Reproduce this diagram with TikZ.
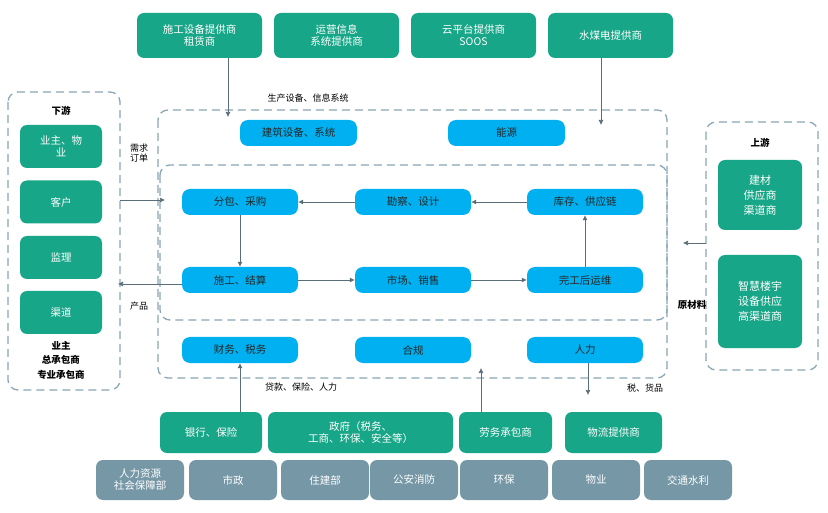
\documentclass[tikz,border=0pt]{standalone}
\usepackage{fontspec}
\setmainfont{Noto Sans CJK SC}
\usetikzlibrary{arrows.meta}
\definecolor{gr}{HTML}{17A687}
\definecolor{bl}{HTML}{00B0F0}
\definecolor{gy}{HTML}{7597A6}
\definecolor{ds}{HTML}{8AA7B5}
\definecolor{ar}{HTML}{5A6E78}
\begin{document}
\begin{tikzpicture}[x=1pt,y=-1pt,
  box/.style={rounded corners=7pt,inner sep=0pt,align=center,font=\fontsize{10.5}{12}\selectfont},
  g/.style={box,fill=gr,text=white},
  b/.style={box,fill=bl,text=black!85,rounded corners=8pt},
  gybox/.style={box,fill=gy,text=white},
  dsh/.style={draw=ds,line width=1.3pt,dash pattern=on 8pt off 5pt,rounded corners=10pt},
  a/.style={draw=ar,-{Latex[length=5pt,width=5pt]},line width=0.7pt},
  lb/.style={font=\fontsize{9}{10.5}\selectfont,align=center,inner sep=0pt}]
\useasboundingbox (0,0) rectangle (828,513);
\fill[white] (0,0) rectangle (828,513);
% dashed frames
\draw[dsh] (158,110) rectangle (667,378);
\draw[dsh] (160,165) rectangle (667,320);
\draw[dsh] (8,92) rectangle (120,390);
\draw[dsh] (706,122) rectangle (818,370);
% top green
\node[g,minimum width=125,minimum height=45] (t1) at (199.5,35.5) {施工设备提供商\\租赁商};
\node[g,minimum width=125,minimum height=45] (t2) at (336.5,35.5) {运营信息\\系统提供商};
\node[g,minimum width=125,minimum height=45] (t3) at (473.5,35.5) {云平台提供商\\SOOS};
\node[g,minimum width=125,minimum height=45] (t4) at (610.5,35.5) {水煤电提供商};
% blue
\node[b,minimum width=117,minimum height=26] (jz) at (298.5,133) {建筑设备、系统};
\node[b,minimum width=117,minimum height=26] (ny) at (506.5,133) {能源};
\node[b,minimum width=116,minimum height=26] (fb) at (240,202) {分包、采购};
\node[b,minimum width=116,minimum height=26] (kc) at (413,202) {勘察、设计};
\node[b,minimum width=116,minimum height=26] (kc2) at (585,202) {库存、供应链};
\node[b,minimum width=116,minimum height=26] (sg) at (240,280) {施工、结算};
\node[b,minimum width=116,minimum height=26] (sc) at (413,280) {市场、销售};
\node[b,minimum width=116,minimum height=26] (wg) at (585,280) {完工后运维};
\node[b,minimum width=116,minimum height=26] (cw) at (240,350) {财务、税务};
\node[b,minimum width=116,minimum height=26] (hg) at (413,350) {合规};
\node[b,minimum width=116,minimum height=26] (rl) at (585,350) {人力};
% left
\node[font=\bfseries\fontsize{9.5}{11}\selectfont] (xy) at (61,111) {下游};
\node[g,minimum width=82,minimum height=43] (l1) at (61,146.5) {业主、物\\业};
\node[g,minimum width=82,minimum height=43] (l2) at (61,202) {客户};
\node[g,minimum width=82,minimum height=43] (l3) at (61,257.5) {监理};
\node[g,minimum width=82,minimum height=43] (l4) at (61,312.5) {渠道};
\node[font=\bfseries\fontsize{9.5}{14.5}\selectfont,align=center] (lt) at (61,360) {业主\\总承包商\\专业承包商};
% right
\node[font=\bfseries\fontsize{9.5}{11}\selectfont] (sy) at (760,143) {上游};
\node[g,minimum width=84,minimum height=70,font=\fontsize{11}{15}\selectfont] (r1) at (760,195) {建材\\供应商\\渠道商};
\node[g,minimum width=84,minimum height=93,font=\fontsize{11}{15}\selectfont] (r2) at (760,301.5) {智慧楼宇\\设备供应\\高渠道商};
\node[font=\bfseries\fontsize{9.5}{11}\selectfont] (ycl) at (692,305) {原材料};
% bottom green
\node[g,minimum width=102,minimum height=41] (b1) at (211,432.5) {银行、保险};
\node[g,minimum width=185,minimum height=41] (b2) at (360.5,432.5) {政府（税务、\\工商、环保、安全等）};
\node[g,minimum width=93,minimum height=41] (b3) at (505.5,432.5) {劳务承包商};
\node[g,minimum width=97,minimum height=41] (b4) at (613.5,432.5) {物流提供商};
% gray
\node[gybox,minimum width=88,minimum height=40] (y1) at (140,480) {人力资源\\社会保障部};
\node[gybox,minimum width=88,minimum height=40] (y2) at (233,480) {市政};
\node[gybox,minimum width=88,minimum height=40] (y3) at (325,480) {住建部};
\node[gybox,minimum width=88,minimum height=40] (y4) at (414,480) {公安消防};
\node[gybox,minimum width=88,minimum height=40] (y5) at (504,480) {环保};
\node[gybox,minimum width=88,minimum height=40] (y6) at (596,480) {物业};
\node[gybox,minimum width=88,minimum height=40] (y7) at (688,480) {交通水利};
% coordinates
\coordinate (c1) at (228,117);
\coordinate (c2) at (601,125);
\coordinate (c0) at (120,200);
\coordinate (c3) at (165,200);
\coordinate (c4) at (118,284);
\coordinate (c5) at (683,243);
\coordinate (c6) at (481,368);
\coordinate (c7) at (588,395);
\coordinate (c8) at (706,243);
% arrows
\draw[a] (t1.south -| c1) -- (c1);
\draw[a] (t4.south -| c2) -- (c2);
\draw[a] (c0) -- (c3);
\draw[a] (sg.west |- c4) -- (c4);
\draw[a] (c8) -- (c5);
\draw[a] (kc.west) -- (fb.east);
\draw[a] (kc2.west) -- (kc.east);
\draw[a] (fb.south) -- (sg.north);
\draw[a] (sg.east) -- (sc.west);
\draw[a] (sc.east) -- (wg.west);
\draw[a] (wg.north) -- (kc2.south);
\draw[a] (b1.north -| cw.south) -- (cw.south);
\draw[a] (b3.north -| c6) -- (c6);
\draw[a] (rl.south -| c7) -- (c7);
% labels
\node[lb] (n1) at (308,98) {生产设备、信息系统};
\node[lb] (n2) at (139,153) {需求\\订单};
\node[lb] (n3) at (139,306) {产品};
\node[lb] (n4) at (301,387) {贷款、保险、人力};
\node[lb] (n5) at (645,388) {税、货品};
\end{tikzpicture}
\end{document}
